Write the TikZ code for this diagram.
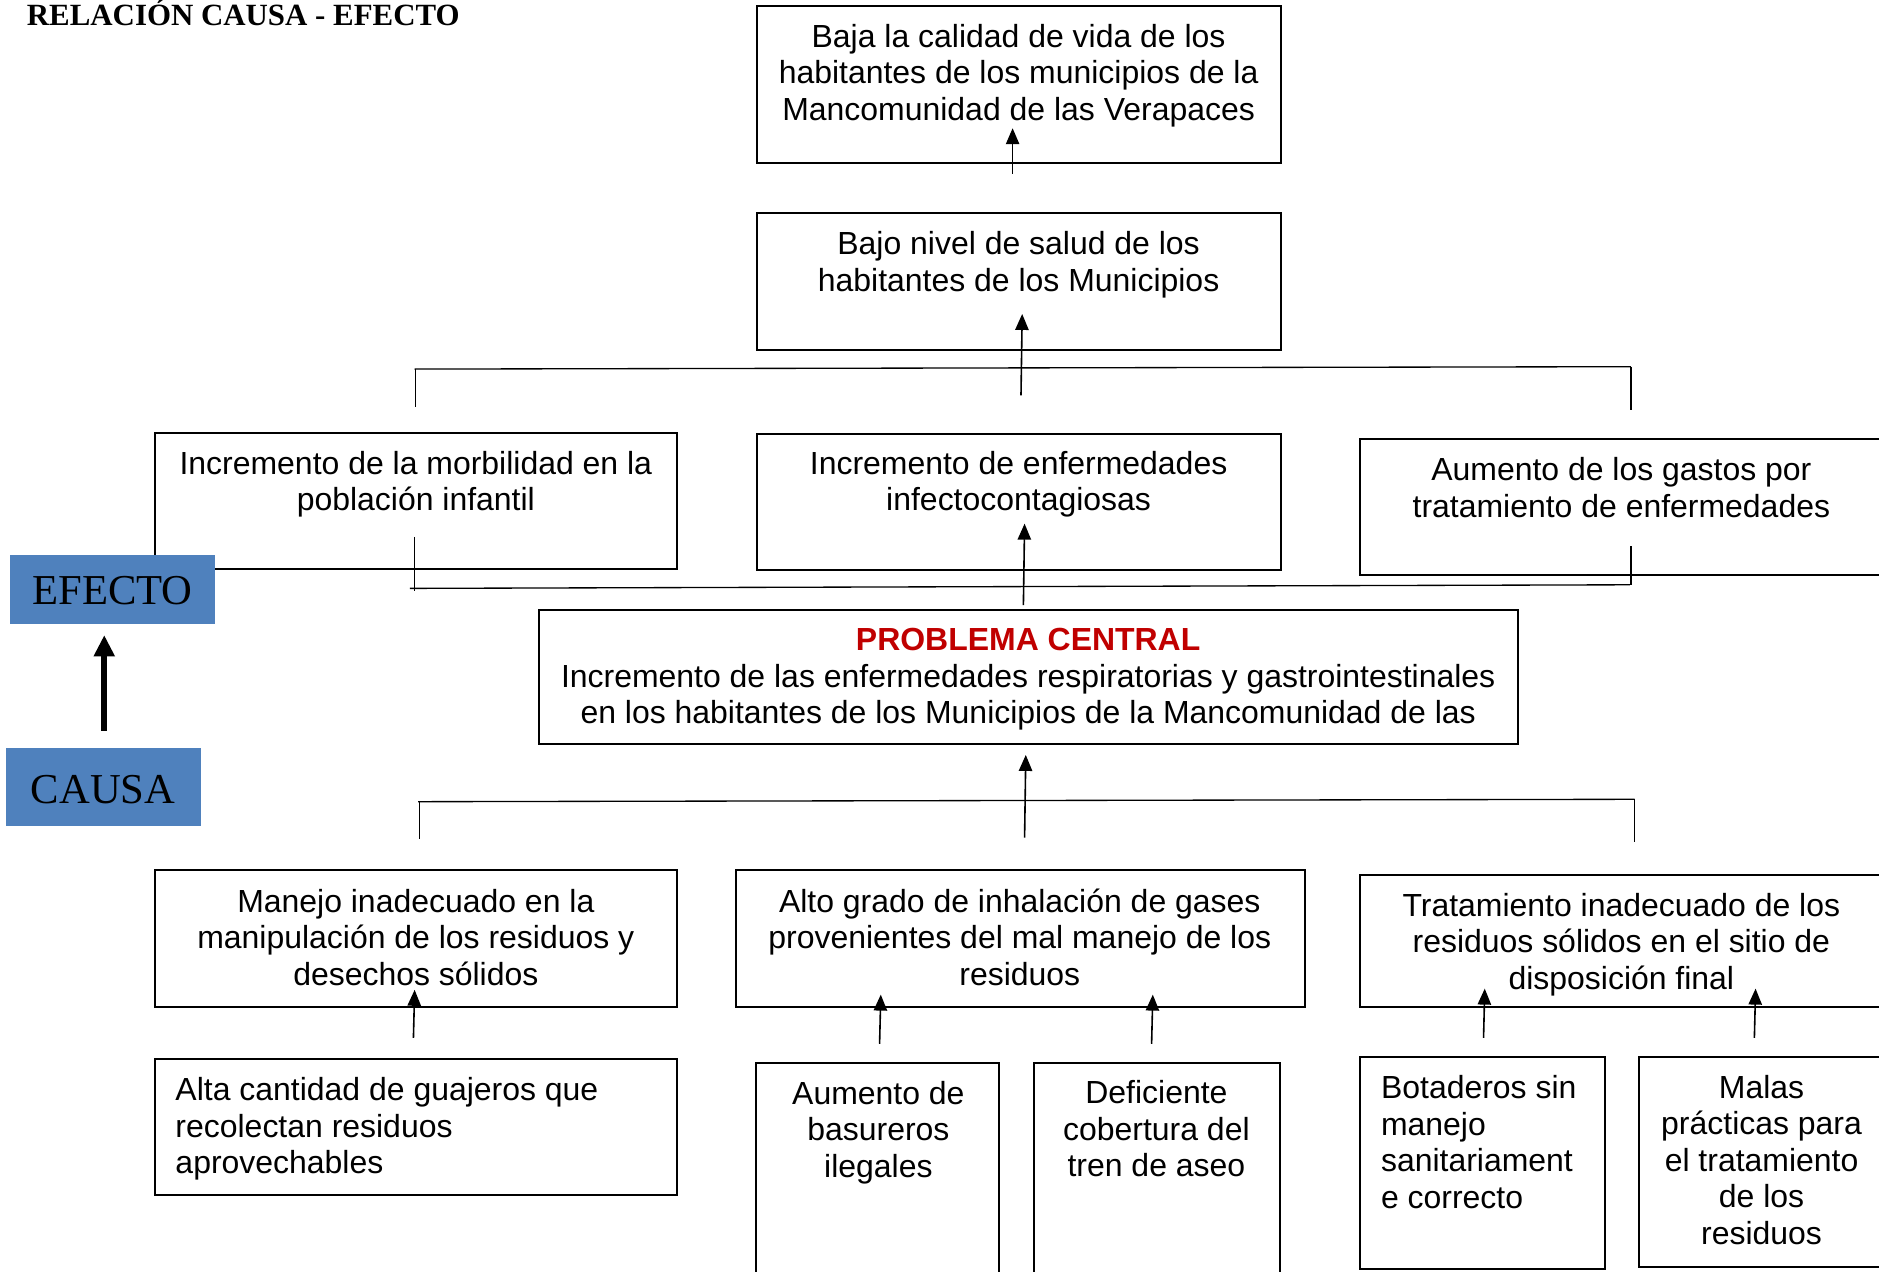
\documentclass[tikz,border=0pt]{standalone}
\usepackage{fontspec}
\setmainfont{Liberation Sans}
\newfontfamily\serifrm{Liberation Serif}
\usetikzlibrary{arrows.meta,fit}
\definecolor{efblue}{HTML}{4F81BD}
\definecolor{pcred}{HTML}{C00000}
\begin{document}
\begin{tikzpicture}[x=0.45pt,y=-0.45pt,
  boxst/.style={draw, line width=0.8pt, inner sep=0pt},
  txt/.style={font=\fontsize{12}{13.7}\selectfont, align=center, inner sep=0pt},
  txtl/.style={font=\fontsize{12}{13.7}\selectfont, align=left, inner sep=0pt, anchor=west},
  lnk/.style={line width=0.5pt},
  arr/.style={line width=0.6pt, -{Triangle[width=5pt,length=6pt]}},
  tagbox/.style={fill=efblue, inner sep=0pt},
  tagtxt/.style={font=\serifrm\fontsize{16}{19}\selectfont, inner sep=0pt}]
\useasboundingbox (0,0) rectangle (1568,1061);
\clip (0,0) rectangle (1568,1061);

% title
\node[anchor=base west, inner sep=0pt, font=\serifrm\bfseries\fontsize{11.6}{13}\selectfont] (title) at (22,21) {RELACIÓN CAUSA - EFECTO};

% effect boxes
\node[boxst, fit={(632,5) (1069,136)}] (b1) {};
\node[txt] (t1) at (850,63) {Baja la calidad de vida de los\\habitantes de los municipios de la\\Mancomunidad de las Verapaces};
\node[boxst, fit={(632,178) (1069,292)}] (b2) {};
\node[txt] (t2) at (850,221) {Bajo nivel de salud de los\\habitantes de los Municipios};

\node[boxst, fit={(129,361) (565,475)}] (b4) {};
\node[txt] (t4) at (347,404) {Incremento de la morbilidad en la\\población infantil};
\node[boxst, fit={(632,362) (1069,476)}] (b5) {};
\node[txt] (t5) at (850,404) {Incremento de enfermedades\\infectocontagiosas};
\node[boxst, fit={(1135,366) (1580,480)}] (b6) {};
\node[txt] (t6) at (1353,407) {Aumento de los gastos por\\tratamiento de enfermedades};

% central problem
\node[boxst, fit={(450,509) (1267,621)}] (pc) {};
\node[txt] (tpc) at (858,567) {\textcolor{pcred}{\bfseries PROBLEMA CENTRAL}\\Incremento de las enfermedades respiratorias y gastrointestinales\\en los habitantes de los Municipios de la Mancomunidad de las};

% cause boxes
\node[boxst, fit={(129,726) (565,840)}] (b7) {};
\node[txt] (t7) at (347,782) {Manejo inadecuado en la\\manipulación de los residuos y\\desechos sólidos};
\node[boxst, fit={(614,726) (1089,840)}] (b8) {};
\node[txt] (t8) at (851,782) {Alto grado de inhalación de gases\\provenientes del mal manejo de los\\residuos};
\node[boxst, fit={(1135,730) (1580,840)}] (b9) {};
\node[txt] (t9) at (1353,788) {Tratamiento inadecuado de los\\residuos sólidos en el sitio de\\disposición final};

% root causes
\node[boxst, fit={(129,884) (565,997)}] (b10) {};
\node[txtl] (t10) at (146,942) {Alta cantidad de guajeros que\\recolectan residuos\\aprovechables};
\node[boxst, fit={(631,887) (834,1075)}] (b11) {};
\node[txt] (t11) at (733,945) {Aumento de\\basureros\\ilegales};
\node[boxst, fit={(863,887) (1068,1075)}] (b12) {};
\node[txt] (t12) at (965,942) {Deficiente\\cobertura del\\tren de aseo};
\node[boxst, fit={(1135,882) (1339,1059)}] (b13) {};
\node[txtl] (t13) at (1152,953) {Botaderos sin\\manejo\\sanitariament\\e correcto};
\node[boxst, fit={(1368,882) (1580,1057)}] (b14) {};
\node[txt] (t14) at (1470,968) {Malas\\prácticas para\\el tratamiento\\de los\\residuos};

% upper bracket
\coordinate (u1) at (346,308);
\coordinate (u2) at (1361,306);
\draw[lnk] (u1) -- (u2);
\draw[lnk] (347,308) -- (347,340);
\draw[lnk] (u2) -- (1361,342);
% lower effect bracket
\coordinate (l1) at (342,491);
\coordinate (l2) at (1360,488);
\draw[lnk] (l1) -- (l2);
\draw[lnk] (346,448) -- (346,493);
\draw[lnk] (1361,456) -- (1361,488);
% cause bracket
\coordinate (c1) at (349,669);
\coordinate (c2) at (1364,667);
\draw[lnk] (c1) -- (c2);
\draw[lnk] (350,669) -- (350,700);
\draw[lnk] (c2) -- (1364,703);

% arrows
\coordinate (a1s) at (845,145); \coordinate (a1e) at (845,107);
\draw[arr] (a1s) -- (a1e);
\coordinate (a2s) at (852,330); \coordinate (a2e) at (853,262);
\draw[arr] (a2s) -- (a2e);
\coordinate (a3s) at (854,505); \coordinate (a3e) at (855,437);
\draw[arr] (a3s) -- (a3e);
\coordinate (a4s) at (855,699); \coordinate (a4e) at (856,630);
\draw[arr] (a4s) -- (a4e);
\coordinate (a5s) at (345,866); \coordinate (a5e) at (346,826);
\draw[arr] (a5s) -- (a5e);
\coordinate (a6s) at (734,871); \coordinate (a6e) at (735,830);
\draw[arr] (a6s) -- (a6e);
\coordinate (a7s) at (961,871); \coordinate (a7e) at (962,830);
\draw[arr] (a7s) -- (a7e);
\coordinate (a8s) at (1238,866); \coordinate (a8e) at (1239,825);
\draw[arr] (a8s) -- (a8e);
\coordinate (a9s) at (1464,866); \coordinate (a9e) at (1465,825);
\draw[arr] (a9s) -- (a9e);

% EFECTO / CAUSA tags
\node[tagbox, fit={(8,463) (179,521)}] (efecto) {};
\node[tagtxt] (tef) at (94,493) {EFECTO};
\node[tagbox, fit={(5,624) (168,689)}] (causa) {};
\node[tagtxt] (tca) at (86,659) {CAUSA};
\coordinate (ca) at (87,610);
\coordinate (ef) at (87,530);
\draw[line width=2.2pt, -{Triangle[width=7.5pt,length=8pt]}] (ca) -- (ef);
\end{tikzpicture}
\end{document}
